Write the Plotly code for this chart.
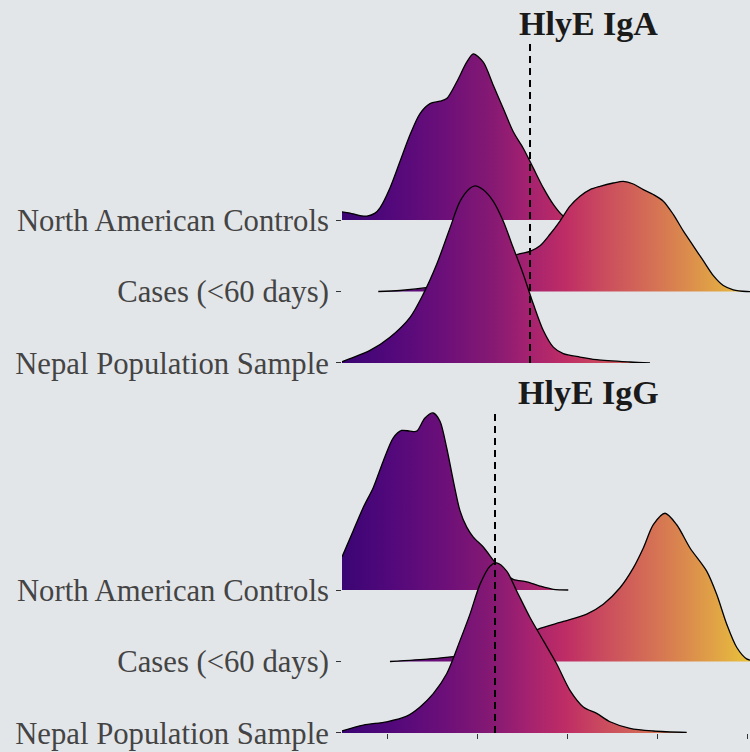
import plotly.graph_objects as go

# ---------------- data ----------------
groups = ["Nepal Population Sample", "Cases (<60 days)", "North American Controls"]
panels = ["HlyE IgA", "HlyE IgG"]
cutoffs = [1.589, 1.2]

# HlyE IgA densities (x, ridge height in row units)
iga_nac_x = [-0.5, -0.411, -0.3, -0.222, -0.133, -0.078, 0.033, 0.144, 0.256, 0.367, 0.478, 0.589,
             0.663, 0.774, 0.886, 0.959, 1.070, 1.181, 1.292, 1.403, 1.514, 1.626, 1.737, 1.848,
             1.959, 2.089, 2.256]
iga_nac_h = [0.115, 0.097, 0.062, 0.056, 0.097, 0.171, 0.449, 0.819, 1.194, 1.490, 1.629, 1.662,
             1.699, 1.931, 2.208, 2.324, 2.208, 1.885, 1.560, 1.236, 1.004, 0.726, 0.449, 0.218,
             0.056, 0.014, 0.0]
iga_cas_x = [-0.097, 0.144, 0.478, 0.811, 1.144, 1.367, 1.441, 1.589, 1.7, 1.811, 1.922, 2.033,
             2.144, 2.256, 2.367, 2.514, 2.626, 2.737, 2.848, 2.959, 3.070, 3.181, 3.292, 3.403,
             3.514, 3.626, 3.737, 3.848, 3.996, 4.144]
iga_cas_h = [0.0, 0.014, 0.060, 0.139, 0.264, 0.403, 0.514, 0.560, 0.639, 0.801, 0.986, 1.194,
             1.333, 1.426, 1.472, 1.518, 1.542, 1.504, 1.426, 1.357, 1.264, 1.079, 0.847, 0.639,
             0.431, 0.222, 0.083, 0.024, 0.0, 0.0]
iga_nep_x = [-0.5, -0.411, -0.189, 0.033, 0.256, 0.403, 0.552, 0.7, 0.811, 0.922, 0.978, 1.070,
             1.181, 1.292, 1.403, 1.514, 1.626, 1.737, 1.848, 1.959, 2.144, 2.330, 2.7, 2.922]
iga_nep_h = [0.017, 0.061, 0.176, 0.361, 0.639, 0.964, 1.381, 1.889, 2.260, 2.444, 2.478, 2.422,
             2.260, 1.982, 1.611, 1.242, 0.825, 0.454, 0.222, 0.131, 0.083, 0.047, 0.014, 0.0]

# HlyE IgG densities
igg_nac_x = [-0.5, -0.374, -0.263, -0.152, -0.041, 0.070, 0.163, 0.256, 0.330, 0.422, 0.514, 0.589,
             0.663, 0.737, 0.811, 0.886, 0.959, 1.070, 1.181, 1.292, 1.403, 1.552, 1.7, 1.848, 2.014]
igg_nac_h = [0.4625, 0.833, 1.157, 1.435, 1.806, 2.129, 2.232, 2.222, 2.222, 2.407, 2.476, 2.361,
             1.990, 1.528, 1.111, 0.879, 0.740, 0.601, 0.417, 0.25, 0.149, 0.115, 0.056, 0.010, 0.0]
igg_cas_x = [0.033, 0.478, 0.737, 1.033, 1.367, 1.533, 1.681, 1.959, 2.219, 2.403, 2.589, 2.737,
             2.848, 2.959, 3.089, 3.219, 3.367, 3.552, 3.663, 3.774, 3.885, 3.996, 4.144]
igg_cas_h = [0.0, 0.0375, 0.069, 0.125, 0.264, 0.361, 0.454, 0.560, 0.663, 0.801, 1.032, 1.310,
             1.588, 1.913, 2.074, 1.913, 1.588, 1.264, 0.940, 0.524, 0.199, 0.0375, 0.0]
igg_nep_x = [-0.5, -0.263, -0.003, 0.219, 0.367, 0.514, 0.663, 0.811, 0.922, 1.033, 1.144, 1.219,
             1.330, 1.441, 1.589, 1.737, 1.885, 2.033, 2.181, 2.330, 2.478, 2.7, 2.959, 3.330]
igg_nep_h = [0.028, 0.111, 0.157, 0.236, 0.365, 0.551, 0.829, 1.292, 1.663, 2.079, 2.333, 2.379,
             2.264, 1.986, 1.615, 1.292, 0.968, 0.597, 0.365, 0.274, 0.157, 0.065, 0.028, 0.007]

x_ticks = [0, 1, 2, 3, 4]

# ---------------- style ----------------
BG = "#e3e6e9"
X_RANGE = [-0.5, 4.0333]
Y_RANGE = [0, 4.49]
colorscale = [
    [0.00, "#3b0574"], [0.12, "#52087b"], [0.25, "#6c0f79"], [0.37, "#861973"],
    [0.45, "#a22170"], [0.55, "#bf2d65"], [0.63, "#c9485f"], [0.72, "#d16358"],
    [0.82, "#d9834f"], [0.92, "#e1a545"], [1.00, "#e9c33b"],
]
FONT = "Liberation Serif, Times New Roman, serif"

fig = go.Figure()

panel_data = [
    [(iga_nac_x, iga_nac_h, 2), (iga_cas_x, iga_cas_h, 1), (iga_nep_x, iga_nep_h, 0)],
    [(igg_nac_x, igg_nac_h, 2), (igg_cas_x, igg_cas_h, 1), (igg_nep_x, igg_nep_h, 0)],
]

for p, rows in enumerate(panel_data):
    xa = "x" if p == 0 else "x2"
    ya = "y" if p == 0 else "y2"
    for xs, hs, base in rows:
        fig.add_trace(go.Scatter(
            x=xs, y=[base] * len(xs), mode="lines", line=dict(width=0, shape="spline"),
            xaxis=xa, yaxis=ya, showlegend=False, hoverinfo="skip"))
        fig.add_trace(go.Scatter(
            x=xs, y=[base + h for h in hs], mode="lines",
            line=dict(color="black", width=1.3, shape="spline", smoothing=0.8),
            fill="tonexty",
            fillgradient=dict(type="horizontal", colorscale=colorscale,
                              start=X_RANGE[0], stop=X_RANGE[1]),
            xaxis=xa, yaxis=ya, showlegend=False, hoverinfo="skip"))
    fig.add_shape(type="line", xref=xa, yref=ya + " domain", x0=cutoffs[p], x1=cutoffs[p],
                  y0=0, y1=1, line=dict(color="black", width=2, dash="7px,5px"), layer="above")

axis_common = dict(showgrid=False, zeroline=False, showline=False, automargin=False)
yax = dict(range=Y_RANGE, tickvals=[0, 1, 2], ticktext=groups, ticks="outside", ticklen=5,
           tickwidth=1.2, tickcolor="#333333", ticklabelstandoff=1,
           tickfont=dict(family=FONT, size=30.7, color="#444444"), **axis_common)

fig.update_layout(
    width=750, height=752,
    margin=dict(l=342, r=0, t=0, b=0),
    paper_bgcolor=BG, plot_bgcolor=BG,
    xaxis=dict(domain=[0, 1], range=X_RANGE, anchor="y", showticklabels=False, ticks="",
               **axis_common),
    xaxis2=dict(domain=[0, 1], range=X_RANGE, anchor="y2", tickvals=x_ticks,
                showticklabels=False, ticks="outside", ticklen=5, tickwidth=1.2,
                tickcolor="#333333", **axis_common),
    yaxis=dict(domain=[0.5173, 0.9441], anchor="x", **yax),
    yaxis2=dict(domain=[0.02527, 0.45213], anchor="x2", **yax),
    annotations=[
        dict(text="<b>" + panels[0] + "</b>", xref="paper", yref="paper", x=0.603, y=0.9688,
             xanchor="center", yanchor="middle", showarrow=False,
             font=dict(family=FONT, size=34, color="#1a1a1a")),
        dict(text="<b>" + panels[1] + "</b>", xref="paper", yref="paper", x=0.603, y=0.4787,
             xanchor="center", yanchor="middle", showarrow=False,
             font=dict(family=FONT, size=34, color="#1a1a1a")),
    ],
)

fig.write_html(
    "out.html",
    config={"displayModeBar": False},
    post_script="document.body.style.margin='0';document.body.style.background='" + BG + "';",
)
